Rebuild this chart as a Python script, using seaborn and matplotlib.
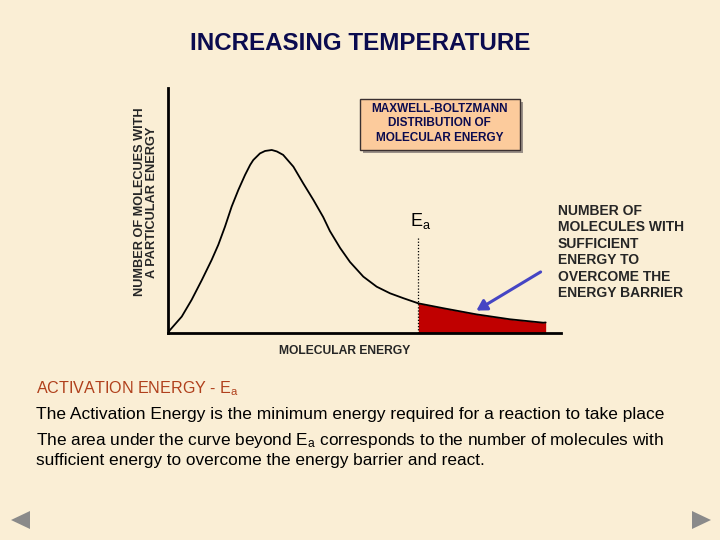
import matplotlib
matplotlib.use("Agg")
import matplotlib.pyplot as plt
import seaborn as sns
import numpy as np
from matplotlib.patches import Rectangle, Polygon, FancyArrowPatch

# ---- data ----
energy = [0.0, 0.5, 3.5, 6.0, 8.6, 11.1, 12.8, 14.5, 16.2, 17.9, 19.6, 20.9, 21.7,
          23.4, 24.7, 26.4, 27.7, 29.3, 31.9, 34.4, 37.0, 39.5, 41.2, 43.8, 46.3, 49.7,
          53.1, 56.5, 59.9, 63.7, 70.1, 78.5, 87.0, 95.5, 96.1]
count = [0.0, 1.2, 6.7, 13.5, 21.6, 29.8, 36.0, 43.4, 51.6, 58.4, 64.5, 68.6, 70.6,
         73.3, 74.3, 74.7, 74.1, 72.7, 67.9, 61.1, 54.3, 47.3, 41.6, 34.7, 29.0, 23.0,
         18.9, 16.2, 14.2, 12.1, 10.1, 7.6, 5.6, 4.2, 4.3]
ea_value = 63.7

title = "INCREASING TEMPERATURE"
ylabel = "NUMBER OF MOLECUES WITH\nA PARTICULAR ENERGY"
xlabel = "MOLECULAR ENERGY"
box_text = "MAXWELL-BOLTZMANN\nDISTRIBUTION OF\nMOLECULAR ENERGY"
side_text = "NUMBER OF\nMOLECULES WITH\nSUFFICIENT\nENERGY TO\nOVERCOME THE\nENERGY BARRIER"

BG = "#FAEED5"
NAVY = "#0B0B4F"

sns.set_theme(style="white")
plt.rcParams["font.family"] = ["Liberation Sans", "DejaVu Sans"]
plt.rcParams["mathtext.fontset"] = "custom"
plt.rcParams["mathtext.rm"] = "Liberation Sans"
plt.rcParams["mathtext.it"] = "Liberation Sans"
plt.rcParams["mathtext.bf"] = "Liberation Sans:bold"

fig = plt.figure(figsize=(7.2, 5.4), dpi=100, facecolor=BG)
ax = fig.add_axes([168 / 720, 1 - 333 / 540, (561 - 168) / 720, (333 - 88) / 540])
ax.set_facecolor("none")

e = np.array(energy)
c = np.array(count)
mask = e >= ea_value
ax.fill_between(e[mask], 0, c[mask], color="#C00000", lw=0, zorder=1)
sns.lineplot(x=e, y=c, ax=ax, color="black", lw=1.3, zorder=3,
             solid_joinstyle="round", solid_capstyle="round")
ax.plot([ea_value, ea_value], [0, 38.8], ls=(0, (1, 1.5)), color="black", lw=0.9, zorder=2)

ax.set_xlim(0, 100)
ax.set_ylim(0, 100)
ax.set_xticks([])
ax.set_yticks([])
for s in ["top", "right"]:
    ax.spines[s].set_visible(False)
for s in ["left", "bottom"]:
    ax.spines[s].set_color("black")
    ax.spines[s].set_linewidth(2)
ax.set_xlabel("")
ax.set_ylabel("")

# Ea label
ax.text(ea_value + 0.6, 41.5, r"E$_\mathregular{a}$", fontsize=13, ha="center", va="bottom", color="black")

def fx(px):
    return px / 720

def fy(py):
    return 1 - py / 540

# Title
fig.text(fx(360), fy(44), title, fontsize=17.4, fontweight="bold", color=NAVY,
         ha="center", va="center")

# y label
fig.text(fx(146), fy(202), ylabel, fontsize=9.2, fontweight="bold", rotation=90,
         ha="center", va="center", linespacing=1.0)

# x label
fig.text(fx(345), fy(351), xlabel, fontsize=8.7, fontweight="bold", ha="center", va="center")

# box with shadow
bx0, by0, bx1, by1 = 359.5, 98.5, 519.5, 149.5
shadow = Rectangle((fx(bx0 + 3), fy(by1 + 3)), (bx1 - bx0) / 720, (by1 - by0) / 540,
                   transform=fig.transFigure, facecolor="#9A9088", edgecolor="none", zorder=4)
box = Rectangle((fx(bx0), fy(by1)), (bx1 - bx0) / 720, (by1 - by0) / 540,
                transform=fig.transFigure, facecolor="#FCCB9C", edgecolor="#3A3030", lw=1.0, zorder=5)
fig.add_artist(shadow)
fig.add_artist(box)
fig.text(fx((bx0 + bx1) / 2), fy(123.5), box_text, fontsize=8.5, fontweight="bold",
         color=NAVY, ha="center", va="center", linespacing=1.23, zorder=6)

# side text
fig.text(fx(558), fy(252), side_text, fontsize=10, fontweight="bold", ha="left", va="center",
         linespacing=1.22)

# arrow
fig.add_artist(FancyArrowPatch(
    (fx(543), fy(270.5)), (fx(474), fy(312)), transform=fig.transFigure,
    arrowstyle="-|>,head_length=6,head_width=3.5", color="#4545C4", lw=2.2, zorder=6))

# bottom text
fig.text(fx(36), fy(389), r"ACTIVATION ENERGY - E$_\mathregular{a}$", fontsize=11.6, color="#B0401C",
         ha="left", va="center")
fig.text(fx(36), fy(415), "The Activation Energy is the minimum energy required for a reaction to take place",
         fontsize=12.5, ha="left", va="center", color="black")
fig.text(fx(36), fy(441), r"The area under the curve beyond E$_\mathregular{a}$ corresponds to the number of molecules with",
         fontsize=12.4, ha="left", va="center", color="black")
fig.text(fx(36), fy(461), "sufficient energy to overcome the energy barrier and react.",
         fontsize=12.4, ha="left", va="center", color="black")

# nav triangles
fig.add_artist(Polygon([[fx(30), fy(511)], [fx(30), fy(529)], [fx(11), fy(520)]],
                       closed=True, transform=fig.transFigure, facecolor="#8A8A8A", edgecolor="none"))
fig.add_artist(Polygon([[fx(692), fy(511)], [fx(692), fy(529)], [fx(711), fy(520)]],
                       closed=True, transform=fig.transFigure, facecolor="#8A8A8A", edgecolor="none"))

fig.savefig("out.png", dpi=100, facecolor=BG)
